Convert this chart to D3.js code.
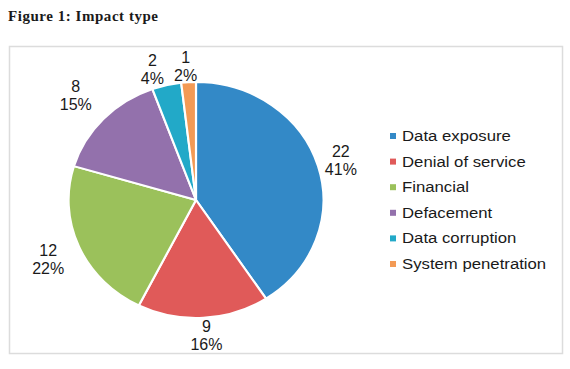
<!DOCTYPE html>
<html>
<head>
<meta charset="utf-8">
<script src="https://cdn.jsdelivr.net/npm/d3@7"></script>
<style>
  body { margin: 0; background: #fff; }
  svg text { font-family: "Liberation Sans", Arial, sans-serif; fill: #1a1a1a; }
</style>
</head>
<body>
<svg id="chart" width="570" height="369"></svg>
<script>
// data
var categories = ["Data exposure", "Denial of service", "Financial", "Defacement", "Data corruption", "System penetration"]
var counts = [22, 9, 12, 8, 2, 1]
var percentLabels = ["41%", "16%", "22%", "15%", "4%", "2%"]
var colors = ["#3389c7", "#e05a59", "#9bc15b", "#9371ac", "#22a9c8", "#f39a55"]

var svg = d3.select("#chart")

// title
svg.append("text")
  .attr("x", 8).attr("y", 21)
  .attr("textLength", 150)
  .style("font-family", "'Liberation Serif', 'Times New Roman', serif")
  .style("font-weight", "bold")
  .style("font-size", "15px")
  .text("Figure 1: Impact type")

// frame
svg.append("rect")
  .attr("x", 9.5).attr("y", 46.5)
  .attr("width", 553).attr("height", 307)
  .attr("fill", "none")
  .attr("stroke", "#dcdcdc")
  .attr("stroke-width", 1.5)

var cx = 196, cy = 200, r = 118, sx = 1.08

var pie = d3.pie().sort(null).value(function (d) { return d })
var arcs = pie(counts)
var arc = d3.arc().innerRadius(0).outerRadius(r)

// pie is a bit stretched horizontally in the source
var g = svg.append("g")
  .attr("transform", "translate(" + cx + "," + cy + ") scale(" + sx + ",1)")

g.selectAll("path")
  .data(arcs)
  .enter()
  .append("path")
  .attr("d", arc)
  .attr("fill", function (d, i) { return colors[i] })
  .attr("stroke", "#fff")
  .attr("stroke-width", 2)
  .attr("stroke-linejoin", "round")

// outside labels, radial distance + small sideways nudge per slice
var labelRadius = [140, 135, 149, 153, 135, 134]
var labelNudge = [0, 2, 0, 0, -10, -2]
var labels = svg.append("g")
arcs.forEach(function (d, i) {
  var a = (d.startAngle + d.endAngle) / 2
  var lr = labelRadius[i]
  var x = cx + Math.sin(a) * lr * sx + labelNudge[i]
  var y = cy - Math.cos(a) * lr
  var t = labels.append("text")
    .attr("text-anchor", "middle")
    .style("font-size", "16px")
  t.append("tspan").attr("x", x).attr("y", y - 3).text(counts[i])
  t.append("tspan").attr("x", x).attr("y", y + 15).text(percentLabels[i])
})

// legend
var legend = svg.append("g").attr("transform", "translate(390,136)")
var row = legend.selectAll("g")
  .data(categories)
  .enter()
  .append("g")
  .attr("transform", function (d, i) { return "translate(0," + (i * 25.6) + ")" })

row.append("rect")
  .attr("x", 0).attr("y", -3)
  .attr("width", 6).attr("height", 6)
  .attr("fill", function (d, i) { return colors[i] })

row.append("text")
  .attr("transform", "translate(12,5) scale(1.08,1)")
  .style("font-size", "15.5px")
  .text(function (d) { return d })
</script>
</body>
</html>
